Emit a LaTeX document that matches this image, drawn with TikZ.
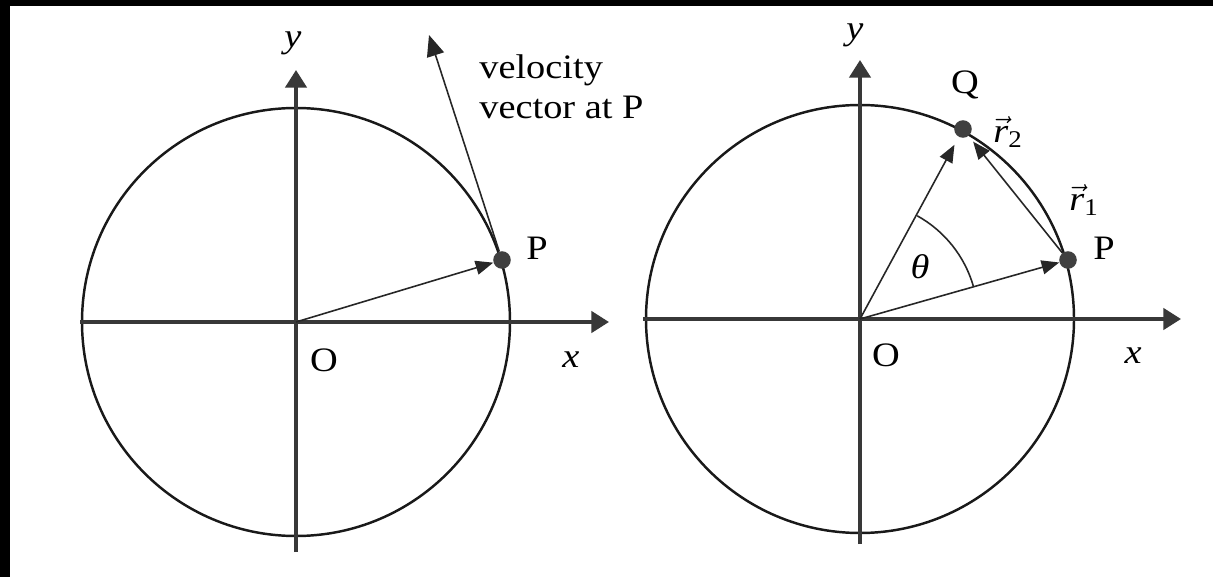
\documentclass[tikz,border=0pt]{standalone}
\usepackage{amsmath}
\usepackage{fontspec}
\setmainfont{Liberation Serif}[FakeStretch=1.12]
\usepackage{tikz}
\usetikzlibrary{arrows.meta,positioning}
\definecolor{axisgray}{HTML}{383838}
\definecolor{dotgray}{HTML}{404040}

\begin{document}
\begin{tikzpicture}[x=0.02cm, y=-0.02cm,
  axis/.style={draw=axisgray, line width=2.2pt, -{Triangle[length=10pt,width=12pt]}},
  rim/.style={draw=black!90, line width=1.4pt},
  vect/.style={draw=black!85, line width=0.9pt, -{Triangle[length=10pt,width=8pt]}},
  dot/.style={circle, fill=dotgray, inner sep=0pt, minimum size=10pt},
  lbl/.style={font=\fontsize{19.5}{23}\selectfont, inner sep=0pt},
  ilbl/.style={lbl, font=\fontsize{19.5}{23}\selectfont\itshape}]
  \useasboundingbox (0,0) rectangle (1213,577);
  \fill[black] (0,0) rectangle (1213,577);
  \fill[white] (10,6) rectangle (1213,577);

  % left circle
  \coordinate (O1) at (296,322);
  \draw[rim] (O1) circle[radius=214];
  \coordinate (xa1) at (80,322);
  \coordinate (xb1) at (609,322);
  \coordinate (ya1) at (296,552);
  \coordinate (yb1) at (296,70);
  \draw[axis] (xa1) -- (xb1);
  \draw[axis] (ya1) -- (yb1);

  \node[dot] (P1) at (502,260) {};
  \coordinate (v1) at (429,35);
  \draw[vect] (O1) -- (P1);
  \draw[vect, -{Triangle[length=12pt,width=10pt]}] (P1) -- (v1);

  \node[ilbl] (ylab1) at (293,43) {y};
  \node[lbl] (plab1) at (537,248) {P};
  \node[lbl] (olab1) at (324,360) {O};
  \node[ilbl] (xlab1) at (571,360) {x};
  \node[lbl, align=left, anchor=north west] (vel) at (479,54) {velocity\\vector at P};

  % right circle
  \coordinate (O2) at (860,319);
  \draw[rim] (O2) circle[radius=214];
  \coordinate (xa2) at (643,319);
  \coordinate (xb2) at (1181,319);
  \coordinate (ya2) at (860,544);
  \coordinate (yb2) at (860,60);
  \draw[axis] (xa2) -- (xb2);
  \draw[axis] (ya2) -- (yb2);

  \node[dot] (P2) at (1068,260) {};
  \node[dot] (Q) at (963,129) {};
  \draw[vect] (O2) -- (P2);
  \draw[vect, shorten >=5pt] (O2) -- (Q);
  \draw[vect, shorten >=4pt] (P2) -- (Q);
  \draw[draw=black!85, line width=0.9pt] (O2) ++(-16:118) arc[start angle=-16, end angle=-61, radius=118];

  \node[ilbl] (ylab2) at (855,35) {y};
  \node[lbl] (qlab) at (965,85) {Q};
  \node[lbl] (r2lab) at (1008,132) {$\vec{\textit{r}}_{\textrm{2}}$};
  \node[lbl] (r1lab) at (1084,200) {$\vec{\textit{r}}_{\textrm{1}}$};
  \node[lbl] (plab2) at (1104,248) {P};
  \node[ilbl] (thlab) at (920,267) {θ};
  \node[lbl] (olab2) at (886,355) {O};
  \node[ilbl] (xlab2) at (1133,356) {x};
\end{tikzpicture}
\end{document}
